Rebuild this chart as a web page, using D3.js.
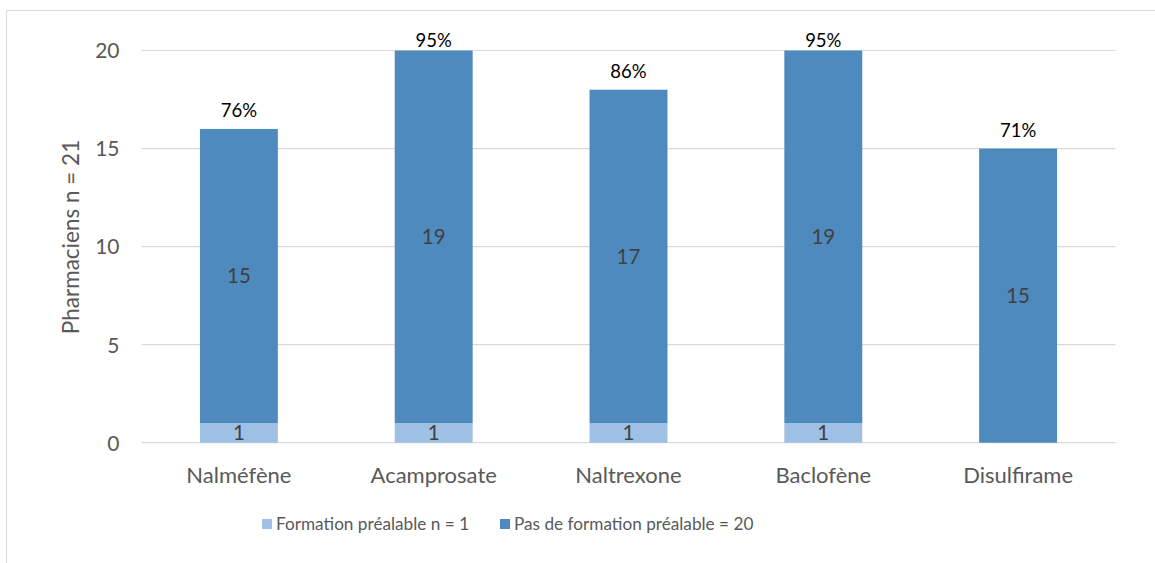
<!DOCTYPE html>
<html><head><meta charset="utf-8">
<script src="https://cdn.jsdelivr.net/npm/d3@7"></script>
<style>body{margin:0;background:#fff;} svg{display:block;}</style>
</head><body>
<script>
const categories = ["Nalméfène","Acamprosate","Naltrexone","Baclofène","Disulfirame"];
const formation = [1,1,1,1,0];
const pasFormation = [15,19,17,19,15];
const percentLabels = ["76%","95%","86%","95%","71%"];
const seriesNames = ["Formation préalable n = 1","Pas de formation préalable = 20"];
const yTicks = [0,5,10,15,20];
const yTitle = "Pharmaciens n = 21";

const W=1155,H=563;
const font = "Lato, 'Open Sans', sans-serif";
const colors = ["#9dc0e4","#4f8abe"];
const svg = d3.select("body").append("svg").attr("width",W).attr("height",H);
svg.append("rect").attr("x",6.5).attr("y",10.5).attr("width",W+10).attr("height",H+10)
  .attr("fill","none").attr("stroke","#d9d9d9");

const x = d3.scaleBand().domain(categories).range([141.5,1115.5]).paddingInner(0.6).paddingOuter(0.3);
const y = d3.scaleLinear().domain([0,20]).range([442.7,50.5]);

// grid
svg.append("g").selectAll("line").data(yTicks).join("line")
  .attr("x1",141.5).attr("x2",1115.5).attr("y1",d=>y(d)).attr("y2",d=>y(d))
  .attr("stroke","#d9d9d9").attr("stroke-width",1.2);

const yAxis = svg.append("g").attr("transform","translate(141.5,0)")
  .call(d3.axisLeft(y).tickValues(yTicks).tickSize(0).tickPadding(22));
yAxis.select(".domain").remove();
yAxis.selectAll("text").attr("font-family",font).attr("font-size",21).attr("fill","#595959").attr("dy","0.35em");

const stack = categories.map((c,i)=>({c,a:formation[i],b:pasFormation[i],p:percentLabels[i]}));
const g = svg.append("g");
stack.forEach(d=>{
  if(d.a>0) g.append("rect").attr("x",x(d.c)).attr("width",x.bandwidth()).attr("y",y(d.a)).attr("height",y(0)-y(d.a)).attr("fill",colors[0]);
  g.append("rect").attr("x",x(d.c)).attr("width",x.bandwidth()).attr("y",y(d.a+d.b)).attr("height",y(d.a)-y(d.a+d.b)).attr("fill",colors[1]);
  const cx = x(d.c)+x.bandwidth()/2;
  if(d.a>0) g.append("text").attr("x",cx).attr("y",y(d.a/2)).attr("dy","0.36em").attr("text-anchor","middle")
    .attr("font-family",font).attr("font-size",20.5).attr("fill","#404040").text(d.a);
  g.append("text").attr("x",cx).attr("y",y(d.a+d.b/2)).attr("dy","0.36em").attr("text-anchor","middle")
    .attr("font-family",font).attr("font-size",20.5).attr("fill","#404040").text(d.b);
  g.append("text").attr("x",cx).attr("y",Math.max(y(d.a+d.b)-11.5, 47)).attr("text-anchor","middle")
    .attr("font-family",font).attr("font-size",18.5).attr("fill","#000").text(d.p);
});

const xAxis = svg.append("g").attr("transform",`translate(0,${y(0)})`)
  .call(d3.axisBottom(x).tickSize(0));
xAxis.select(".domain").remove();
xAxis.selectAll("text").attr("y",40).attr("dy",0).attr("font-family",font).attr("font-size",22).attr("fill","#595959");

svg.append("text").attr("transform","translate(79,237) rotate(-90)").attr("text-anchor","middle")
  .attr("font-family",font).attr("font-size",22.5).attr("fill","#595959").text(yTitle);

// legend
const legX=[262,500];
seriesNames.forEach((s,i)=>{
  svg.append("rect").attr("x",legX[i]).attr("y",519).attr("width",10).attr("height",10).attr("fill",colors[i]);
  svg.append("text").attr("x",legX[i]+14).attr("y",524).attr("dy","0.36em")
    .attr("font-family",font).attr("font-size",17.2).attr("fill","#595959").text(s);
});
</script>
</body></html>
